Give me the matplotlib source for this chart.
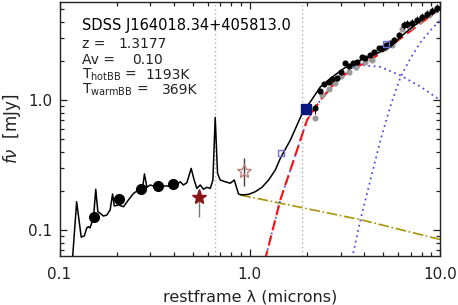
import matplotlib
matplotlib.use("Agg")
import matplotlib.pyplot as plt
from matplotlib.ticker import FixedLocator, FuncFormatter

# total model (QSO template + hot BB + warm BB), restframe microns / mJy
model_wave = [0.117, 0.123, 0.130, 0.135, 0.139, 0.142, 0.1447, 0.151, 0.155, 0.159,
              0.163, 0.170, 0.177, 0.1845, 0.190, 0.194, 0.204, 0.217, 0.230, 0.245,
              0.260, 0.273, 0.2795, 0.288, 0.2995, 0.318, 0.345, 0.374, 0.397, 0.431,
              0.448, 0.467, 0.492, 0.510, 0.527, 0.549, 0.571, 0.595, 0.620, 0.640,
              0.658, 0.677, 0.699, 0.743, 0.790, 0.829, 0.873, 0.910, 0.986, 1.069,
              1.159, 1.256, 1.362, 1.447, 1.634, 1.920, 2.082, 2.350, 2.653, 3.117,
              3.815, 4.672, 5.490, 6.196, 6.994, 8.216, 9.667, 10.0]
model_flux = [0.060, 0.165, 0.088, 0.090, 0.1036, 0.106, 0.1036, 0.1265, 0.2056, 0.138,
              0.135, 0.128, 0.130, 0.1425, 0.189, 0.153, 0.1556, 0.151, 0.170, 0.1915,
              0.203, 0.209, 0.270, 0.213, 0.222, 0.2155, 0.218, 0.218, 0.213, 0.235,
              0.222, 0.231, 0.298, 0.2425, 0.209, 0.222, 0.2056, 0.213, 0.209, 0.2425,
              0.736, 0.273, 0.2425, 0.235, 0.229, 0.2425, 0.189, 0.186, 0.188, 0.197,
              0.213, 0.2425, 0.2895, 0.356, 0.492, 0.838, 0.970, 1.265, 1.468, 1.753,
              2.03, 2.287, 2.57, 3.07, 3.56, 4.25, 4.92, 5.17]

# accretion disk power-law extension
disk_wave = [0.891, 3.82, 10.0]
disk_flux = [0.186, 0.120, 0.0845]

# hot blackbody (1193 K)
hot_wave = [1.20, 1.447, 1.772, 2.0, 2.35, 2.877, 3.38, 3.957, 4.863, 6.196, 7.895, 10.0]
hot_flux = [0.058, 0.170, 0.412, 0.702, 1.0, 1.425, 1.753, 1.858, 1.803, 1.55, 1.27, 1.0]

# warm blackbody (369 K)
warm_wave = [3.40, 3.815, 4.307, 4.863, 5.49, 6.196, 6.994, 7.895, 8.913, 10.0]
warm_flux = [0.055, 0.119, 0.2425, 0.492, 0.899, 1.503, 2.10, 2.79, 3.45, 4.12]

# hot + warm dust
dust_wave = [1.20, 1.447, 1.772, 2.0, 2.35, 2.877, 3.518, 4.307, 5.713, 7.895, 10.0]
dust_flux = [0.058, 0.170, 0.412, 0.702, 1.0, 1.425, 1.753, 2.03, 2.73, 3.89, 5.08]

# SDSS photometry
sdss_wave = [0.1525, 0.206, 0.2685, 0.329, 0.394]
sdss_flux = [0.1265, 0.173, 0.2056, 0.219, 0.225]

# IR spectrum points
ir_wave = [2.212, 2.350, 2.467, 2.598, 2.708, 2.877, 3.020, 3.182, 3.311, 3.493,
           3.667, 3.895, 4.055, 4.307, 4.522, 4.763, 4.964, 5.23, 5.49, 5.713,
           6.07, 6.45, 6.72, 7.14, 7.59, 8.06, 8.56, 9.10, 9.667]
ir_flux = [0.863, 1.179, 1.32, 1.383, 1.443, 1.468, 1.651, 1.936, 1.826, 1.916,
           1.95, 2.153, 2.093, 2.218, 2.352, 2.499, 2.525, 2.649, 2.76, 2.93,
           3.162, 3.776, 3.844, 3.935, 4.125, 4.37, 4.586, 4.84, 5.165]
ir_err = [0.09, 0.02, 0.02, 0.02, 0.02, 0.02, 0.02, 0.03, 0.03, 0.03,
          0.03, 0.03, 0.03, 0.03, 0.03, 0.03, 0.03, 0.03, 0.04, 0.04,
          0.05, 0.07, 0.07, 0.07, 0.07, 0.07, 0.07, 0.07, 0.07]

grey_wave = [2.212, 2.399, 2.598, 2.818, 3.03, 3.311, 3.636, 4.055, 4.41, 5.167,
             5.605, 6.325, 6.994, 7.895, 8.73, 9.47]
grey_flux = [0.723, 1.093, 1.209, 1.344, 1.53, 1.651, 1.79, 1.97, 2.03, 2.499,
             2.649, 3.56, 3.66, 4.17, 4.51, 4.99]

lines_wave = [0.6563, 1.875]

plt.rcParams['font.family'] = ['DejaVu Sans']

fig = plt.figure(figsize=(4.58, 3.05), dpi=100)
ax = fig.add_axes([0.130, 0.1607, 0.8307, 0.8327])

for w in lines_wave:
    ax.axvline(w, color='#b0b0b0', ls=(0, (1, 2)), lw=1.0, zorder=1)

ax.plot(disk_wave, disk_flux, color='#a8940a', ls='-.', lw=1.2, zorder=2)
ax.plot(hot_wave, hot_flux, color='#5050f0', ls=(0, (1, 2)), lw=1.3, zorder=3)
ax.plot(warm_wave, warm_flux, color='#5050f0', ls=(0, (1, 2)), lw=1.3, zorder=3)
ax.plot(dust_wave, dust_flux, color='#ff1010', ls=(0, (5, 2.5)), lw=1.5, zorder=3.5)

ax.plot(grey_wave, grey_flux, 'o', color='#999999', ms=3.4, mec='#999999', zorder=4)
ax.errorbar(ir_wave, ir_flux, yerr=[f * e for f, e in zip(ir_flux, ir_err)],
            fmt='o', color='black', ms=3.4, elinewidth=0.7, capsize=0, zorder=5)

ax.plot(model_wave, model_flux, color='black', lw=1.1, zorder=6)

ax.plot(sdss_wave, sdss_flux, 'o', color='black', ms=7, zorder=7)
ax.errorbar([0.538], [0.180], yerr=[[0.0535], [0.0]], fmt='none', ecolor='#777777',
            elinewidth=1, zorder=6)
ax.plot([0.538], [0.180], marker='*', color='#8b1414', ms=11, zorder=7)
ax.errorbar([0.936], [0.2857], yerr=[[0.0677], [0.0703]], fmt='none', ecolor='#444444',
            elinewidth=1, zorder=6)
ax.plot([0.936], [0.2857], marker='*', mfc='none', mec='#c08080', ms=10, mew=1, zorder=7)
ax.plot([1.983], [0.848], 's', color='#0a1680', ms=7, zorder=8)
ax.plot([1.465, 5.23], [0.389, 2.71], 's', mfc='none', mec='#7070d8', ms=5, mew=1, zorder=8)

ax.set_xscale('log')
ax.set_yscale('log')
ax.set_xlim(0.1, 10.0)
ax.set_ylim(0.063, 5.7)

ax.xaxis.set_major_locator(FixedLocator([0.1, 1.0, 10.0]))
ax.xaxis.set_minor_locator(FixedLocator([0.2, 0.3, 0.4, 0.5, 0.6, 0.7, 0.8, 0.9,
                                         2, 3, 4, 5, 6, 7, 8, 9]))
ax.yaxis.set_major_locator(FixedLocator([0.1, 1.0]))
ax.yaxis.set_minor_locator(FixedLocator([0.07, 0.08, 0.09, 0.2, 0.3, 0.4, 0.5, 0.6,
                                         0.7, 0.8, 0.9, 2, 3, 4, 5]))
fmt = FuncFormatter(lambda v, p: '%.1f' % v)
ax.xaxis.set_major_formatter(fmt)
ax.yaxis.set_major_formatter(fmt)
ax.xaxis.set_minor_formatter(FuncFormatter(lambda v, p: ''))
ax.yaxis.set_minor_formatter(FuncFormatter(lambda v, p: ''))

ax.tick_params(which='both', direction='in', top=True, right=True, color='#222222',
               labelsize=11, labelcolor='#222222')
ax.tick_params(which='major', length=5, width=0.9)
ax.tick_params(which='minor', length=3, width=0.9)
ax.tick_params(axis='x', pad=8)
ax.tick_params(axis='y', pad=5)
for s in ax.spines.values():
    s.set_color('#222222')
    s.set_linewidth(1.0)

ax.set_xlabel(u'restframe \u03bb (microns)', fontsize=11.5, color='#222222')
ax.xaxis.set_label_coords(0.5, -0.13)
ax.set_ylabel(r'$f\nu$  [mJy]', fontsize=12, color='#222222')
ax.yaxis.set_label_coords(-0.095, 0.5)

tx = 0.059
ax.text(tx, 0.89, 'SDSS J164018.34+405813.0', transform=ax.transAxes,
        fontsize=10.5, color='black', va='baseline')
rows = [('z =', '1.3177', 0.820, 0.154),
        ('Av =', '0.10', 0.756, 0.192),
        (r'T$_{\mathrm{hotBB}}$ =', '1193K', 0.697, 0.225),
        (r'T$_{\mathrm{warmBB}}$ =', '369K', 0.638, 0.268)]
for lab, val, yy, xv in rows:
    ax.text(tx, yy, lab, transform=ax.transAxes, fontsize=10, color='#222222', va='baseline')
    ax.text(xv, yy, val, transform=ax.transAxes, fontsize=10, color='#222222', va='baseline')

fig.savefig('out.png', dpi=100)
